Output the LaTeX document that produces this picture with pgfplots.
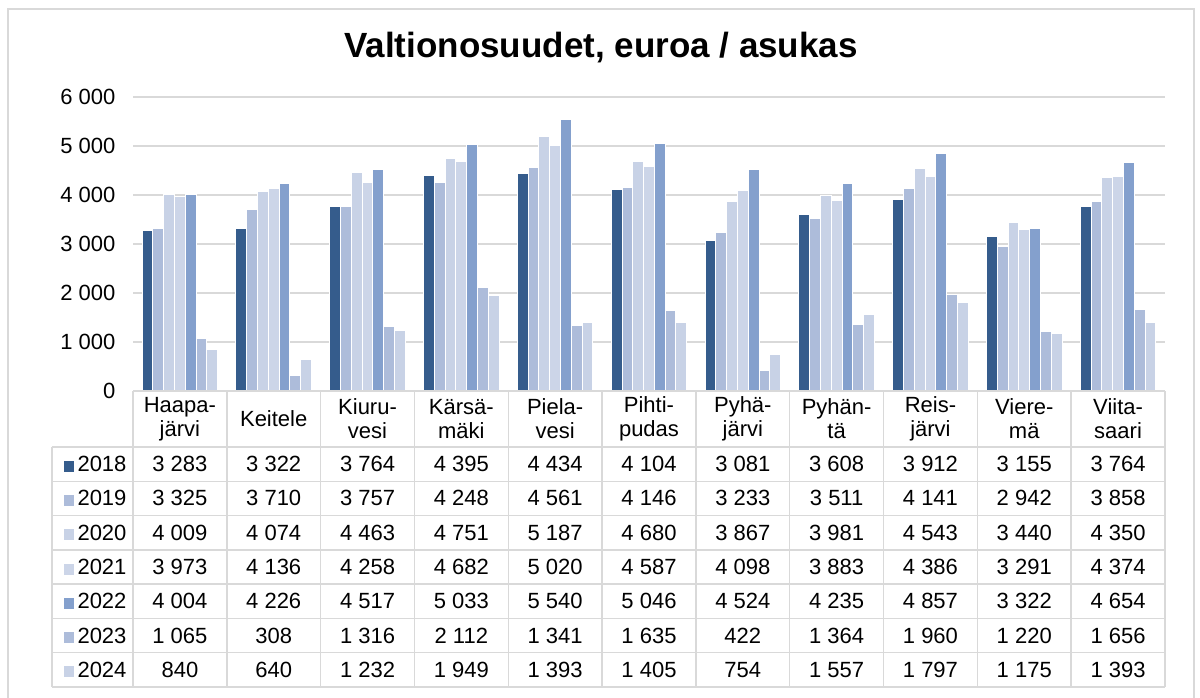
\documentclass[border=0pt]{standalone}
\usepackage{fontspec}
\setmainfont{Liberation Sans}
\usepackage{pgfplots}
\usepackage{pgfplotstable}
\pgfplotsset{compat=1.18}
\definecolor{c18}{HTML}{355C8C}
\definecolor{c19}{HTML}{ADBCDA}
\definecolor{c20}{HTML}{C8D2E6}
\definecolor{c21}{HTML}{CCD5E8}
\definecolor{c22}{HTML}{84A0CD}
\definecolor{c23}{HTML}{ADBCDA}
\definecolor{c24}{HTML}{C8D2E6}
\definecolor{gridc}{HTML}{D9D9D9}
\newcommand{\tf}{\fontsize{22}{24}\selectfont}
\newcommand{\key}[2]{\textcolor{#1}{\rule{10pt}{11pt}}\hspace{4pt}#2}
\pgfplotstableread{
x  y2018 y2019 y2020 y2021 y2022 y2023 y2024
0  3283  3325  4009  3973  4004  1065  840
1  3322  3710  4074  4136  4226  308   640
2  3764  3757  4463  4258  4517  1316  1232
3  4395  4248  4751  4682  5033  2112  1949
4  4434  4561  5187  5020  5540  1341  1393
5  4104  4146  4680  4587  5046  1635  1405
6  3081  3233  3867  4098  4524  422   754
7  3608  3511  3981  3883  4235  1364  1557
8  3912  4141  4543  4386  4857  1960  1797
9  3155  2942  3440  3291  3322  1220  1175
10 3764  3858  4350  4374  4654  1656  1393
}\data
\begin{document}
\begin{tikzpicture}
\useasboundingbox (0pt,0pt) rectangle (1200pt,698pt);
\draw[gridc, line width=1.5pt] (8pt,-10pt) rectangle (1194pt,689pt);
\node[font=\fontsize{35}{40}\selectfont\bfseries] at (601pt,650pt) {Valtionosuudet, euroa / asukas};
\begin{axis}[
  at={(133pt,307pt)}, anchor=south west,
  scale only axis, width=1032pt, height=294pt,
  xmin=-0.5, xmax=10.5, ymin=0, ymax=6000,
  ybar=0pt, bar width=0.1151,
  axis line style={draw=none},
  major tick length=0pt,
  ymajorgrids, grid style={gridc, line width=1.5pt},
  ytick={0,1000,...,6000},
  scaled y ticks=false,
  /pgf/number format/1000 sep={\ },
  /pgf/number format/assume math mode=true,
  yticklabel style={font=\tf, xshift=-14pt},
  xtick={0,...,10},
  xticklabels={{Haapa-\\järvi},Keitele,{Kiuru-\\vesi},{Kärsä-\\mäki},{Piela-\\vesi},{Pihti-\\pudas},{Pyhä-\\järvi},{Pyhän-\\tä},{Reis-\\järvi},{Viere-\\mä},{Viita-\\saari}},
  xticklabel style={font=\tf, align=center, anchor=center, yshift=-28pt},
  every axis plot/.append style={draw=white, line width=1pt},
  clip=false,
]
\addplot[fill=c18] table[x=x,y=y2018] {\data};
\addplot[fill=c19] table[x=x,y=y2019] {\data};
\addplot[fill=c20] table[x=x,y=y2020] {\data};
\addplot[fill=c21] table[x=x,y=y2021] {\data};
\addplot[fill=c22] table[x=x,y=y2022] {\data};
\addplot[fill=c23] table[x=x,y=y2023] {\data};
\addplot[fill=c24] table[x=x,y=y2024] {\data};
\end{axis}
\begin{axis}[
  at={(133pt,11pt)}, anchor=south west,
  scale only axis, width=1032pt, height=296pt,
  xmin=-0.5, xmax=10.5, ymin=0, ymax=8.633, y dir=reverse,
  axis line style={draw=none}, major tick length=0pt,
  xtick=\empty,
  ytick={2.133,3.133,4.133,5.133,6.133,7.133,8.133},
  yticklabels={{\key{c18}{2018}},{\key{c19}{2019}},{\key{c20}{2020}},{\key{c21}{2021}},{\key{c22}{2022}},{\key{c23}{2023}},{\key{c24}{2024}}},
  yticklabel style={font=\tf, anchor=east, xshift=-3pt},
  /pgf/number format/1000 sep={\ },
  /pgf/number format/assume math mode=true,
  /pgf/number format/fixed,
  /pgf/number format/precision=0,
  clip=false,
  tabrow/.style={only marks, mark=*, mark size=0pt, mark options={draw=none, fill=none},
    nodes near coords, point meta=explicit,
    every node near coord/.style={font=\tf, text=black, anchor=center}},
]
\addplot[tabrow] table[x=x, y expr=2.133, meta=y2018] {\data};
\addplot[tabrow] table[x=x, y expr=3.133, meta=y2019] {\data};
\addplot[tabrow] table[x=x, y expr=4.133, meta=y2020] {\data};
\addplot[tabrow] table[x=x, y expr=5.133, meta=y2021] {\data};
\addplot[tabrow] table[x=x, y expr=6.133, meta=y2022] {\data};
\addplot[tabrow] table[x=x, y expr=7.133, meta=y2023] {\data};
\addplot[tabrow] table[x=x, y expr=8.133, meta=y2024] {\data};
\pgfplotsinvokeforeach{-0.5,0.5,1.5,2.5,3.5,4.5,5.5,6.5,7.5,8.5,9.5,10.5}{
  \draw[gridc, line width=1.5pt] (axis cs:#1,0) -- (axis cs:#1,8.633);
}
\pgfplotsinvokeforeach{1.633,2.633,3.633,4.633,5.633,6.633,7.633,8.633}{
  \draw[gridc, line width=1.5pt] (axis cs:-1.3635,#1) -- (axis cs:10.5,#1);
}
\draw[gridc, line width=1.5pt] (axis cs:-0.5,0) -- (axis cs:10.5,0);
\draw[gridc, line width=1.5pt] (axis cs:-1.3635,1.633) -- (axis cs:-1.3635,8.633);
\end{axis}
\end{tikzpicture}
\end{document}
